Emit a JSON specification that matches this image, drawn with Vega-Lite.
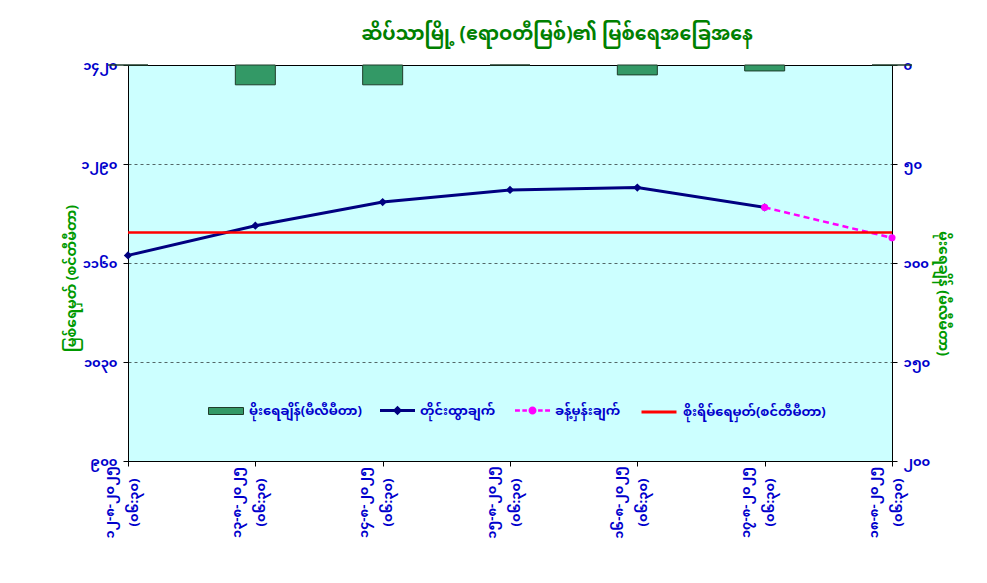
{
  "$schema": "https://vega.github.io/schema/vega-lite/v6.json",
  "width": 764,
  "height": 396,
  "autosize": {"type": "none"},
  "padding": {"left": 128, "top": 65, "right": 95, "bottom": 122},
  "background": "white",
  "config": {
    "font": "Noto Sans Myanmar, Padauk, Myanmar Text, Noto Sans, DejaVu Sans",
    "view": {"fill": "#CCFFFF", "stroke": "black", "strokeWidth": 1},
    "legend": {
      "orient": "none",
      "title": null,
      "direction": "vertical",
      "symbolSize": 1225,
      "labelFontSize": 13,
      "labelFontWeight": "bold",
      "labelColor": "#0000CC",
      "labelLimit": 0,
      "labelOffset": 5,
      "legendY": 328
    }
  },
  "title": {
    "text": "ဆိပ်သာမြို့ (ဧရာဝတီမြစ်)၏ မြစ်ရေအခြေအနေ",
    "color": "#008000",
    "fontSize": 19,
    "fontWeight": "bold",
    "anchor": "middle",
    "dx": 47,
    "offset": 15
  },
  "data": {
    "values": [
      {"x": "၁၂-၈-၂၀၂၅|(၀၆:၃၀)", "rain": 0, "level": 1170, "forecast": null, "danger": 1200},
      {"x": "၁၃-၈-၂၀၂၅|(၀၆:၃၀)", "rain": 10, "level": 1209, "forecast": null, "danger": 1200},
      {"x": "၁၄-၈-၂၀၂၅|(၀၆:၃၀)", "rain": 10, "level": 1240, "forecast": null, "danger": 1200},
      {"x": "၁၅-၈-၂၀၂၅|(၀၆:၃၀)", "rain": 0, "level": 1256, "forecast": null, "danger": 1200},
      {"x": "၁၆-၈-၂၀၂၅|(၀၆:၃၀)", "rain": 5, "level": 1259, "forecast": null, "danger": 1200},
      {"x": "၁၇-၈-၂၀၂၅|(၀၆:၃၀)", "rain": 3, "level": 1233, "forecast": 1233, "danger": 1200},
      {"x": "၁၈-၈-၂၀၂၅|(၀၆:၃၀)", "rain": 0, "level": null, "forecast": 1193, "danger": 1200}
    ]
  },
  "layer": [
    {
      "mark": {"type": "bar", "width": 40, "stroke": "#1f3d2a", "strokeWidth": 1},
      "encoding": {
        "x": {
          "field": "x", "type": "ordinal", "sort": null,
          "scale": {"type": "point", "padding": 0},
          "axis": {
            "title": null,
            "labelExpr": "split(datum.label, '|')",
            "labelAngle": 270,
            "labelAlign": "center",
            "labelBaseline": "middle",
            "labelPadding": 36,
            "labelOffset": -19,
            "labelLineHeight": 24,
            "labelColor": "#0000CC",
            "labelFontWeight": "bold",
            "labelFontSize": 13,
            "labelOverlap": false,
            "labelFlush": false,
            "tickColor": "black",
            "tickSize": 5,
            "domainColor": "black",
            "grid": false
          }
        },
        "y": {
          "field": "rain", "type": "quantitative",
          "title": "မိုးရေချိန် (မီလီမီတာ)",
          "scale": {"domain": [0, 200], "reverse": true, "nice": false},
          "axis": {
            "orient": "right",
            "values": [0, 50, 100, 150, 200],
            "labelExpr": "replace(replace(replace(replace(replace(replace(replace(replace(replace(replace(datum.value + '', regexp('0','g'), '၀'), regexp('1','g'), '၁'), regexp('2','g'), '၂'), regexp('3','g'), '၃'), regexp('4','g'), '၄'), regexp('5','g'), '၅'), regexp('6','g'), '၆'), regexp('7','g'), '၇'), regexp('8','g'), '၈'), regexp('9','g'), '၉')",
            "labelColor": "#0000CC",
            "labelFontWeight": "bold",
            "labelFontSize": 13,
            "labelPadding": 6,
            "tickColor": "black",
            "tickSize": 5,
            "domainColor": "black",
            "grid": false,
            "titleColor": "#009900",
            "titleFontSize": 14,
            "titleFontWeight": "bold",
            "titlePadding": 6,
            "titleY": 228
          }
        },
        "fill": {
          "datum": "မိုးရေချိန်(မီလီမီတာ)",
          "scale": {"range": ["#339966"]},
          "legend": {
            "legendX": 80,
            "symbolType": "M-1,-0.2H1V0.2H-1Z",
            "symbolStrokeColor": "#1f3d2a",
            "symbolStrokeWidth": 1
          }
        }
      }
    },
    {
      "layer": [
        {
          "mark": {"type": "line", "color": "#000080", "strokeWidth": 3},
          "encoding": {
            "x": {"field": "x", "type": "ordinal", "sort": null},
            "y": {
              "field": "level", "type": "quantitative",
              "title": "မြစ်ရေမှတ် (စင်တီမီတာ)",
              "scale": {"domain": [900, 1420], "nice": false, "zero": false},
              "axis": {
                "orient": "left",
                "values": [900, 1030, 1160, 1290, 1420],
                "labelExpr": "replace(replace(replace(replace(replace(replace(replace(replace(replace(replace(datum.value + '', regexp('0','g'), '၀'), regexp('1','g'), '၁'), regexp('2','g'), '၂'), regexp('3','g'), '၃'), regexp('4','g'), '၄'), regexp('5','g'), '၅'), regexp('6','g'), '၆'), regexp('7','g'), '၇'), regexp('8','g'), '၈'), regexp('9','g'), '၉')",
                "labelColor": "#0000CC",
                "labelFontWeight": "bold",
                "labelFontSize": 13,
                "labelPadding": 6,
                "tickColor": "black",
                "tickSize": 5,
                "domainColor": "black",
                "grid": true,
                "gridColor": "black",
                "gridDash": [3, 3],
                "gridWidth": 0.6,
                "titleColor": "#009900",
                "titleFontSize": 14,
                "titleFontWeight": "bold",
                "titlePadding": 2,
                "titleY": 213
              }
            }
          }
        },
        {
          "mark": {"type": "point", "shape": "diamond", "filled": true, "size": 70, "opacity": 1},
          "encoding": {
            "x": {"field": "x", "type": "ordinal", "sort": null},
            "y": {"field": "level", "type": "quantitative", "title": "မြစ်ရေမှတ် (စင်တီမီတာ)"},
            "color": {
              "datum": "တိုင်းထွာချက်",
              "scale": {"range": ["#000080"]},
              "legend": {
                "legendX": 252,
                "symbolType": "M-1,-0.086H1V0.086H-1Z M0,-0.27L0.27,0L0,0.27L-0.27,0Z",
                "symbolStrokeWidth": 0
              }
            }
          }
        },
        {
          "mark": {"type": "line", "color": "#FF00FF", "strokeWidth": 2.5, "strokeDash": [6, 4]},
          "encoding": {
            "x": {"field": "x", "type": "ordinal", "sort": null},
            "y": {"field": "forecast", "type": "quantitative", "title": "မြစ်ရေမှတ် (စင်တီမီတာ)"}
          }
        },
        {
          "mark": {"type": "point", "shape": "circle", "filled": true, "color": "#FF00FF", "size": 50, "opacity": 1, "strokeWidth": 0},
          "encoding": {
            "x": {"field": "x", "type": "ordinal", "sort": null},
            "y": {"field": "forecast", "type": "quantitative", "title": "မြစ်ရေမှတ် (စင်တီမီတာ)"},
            "stroke": {
              "datum": "ခန့်မှန်းချက်",
              "scale": {"range": ["#FF00FF"]},
              "legend": {
                "legendX": 387,
                "symbolType": "M-1,-0.07H-0.72V0.07H-1Z M-0.58,-0.07H-0.32V0.07H-0.58Z M0.32,-0.07H0.58V0.07H0.32Z M0.72,-0.07H1V0.07H0.72Z M-0.23,0A0.23,0.23,0,1,1,0.23,0A0.23,0.23,0,1,1,-0.23,0Z",
                "symbolFillColor": "#FF00FF",
                "symbolStrokeWidth": 0
              }
            }
          }
        },
        {
          "mark": {"type": "line", "color": "#FF0000", "strokeWidth": 2.5},
          "encoding": {
            "x": {"field": "x", "type": "ordinal", "sort": null},
            "y": {"field": "danger", "type": "quantitative", "title": "မြစ်ရေမှတ် (စင်တီမီတာ)"},
            "strokeDash": {
              "datum": "စိုးရိမ်ရေမှတ်(စင်တီမီတာ)",
              "scale": {"range": [[1, 0]]},
              "legend": {
                "legendX": 512,
                "symbolType": "stroke",
                "symbolStrokeColor": "#FF0000",
                "symbolStrokeWidth": 3
              }
            }
          }
        }
      ]
    }
  ],
  "resolve": {"scale": {"y": "independent"}}
}
